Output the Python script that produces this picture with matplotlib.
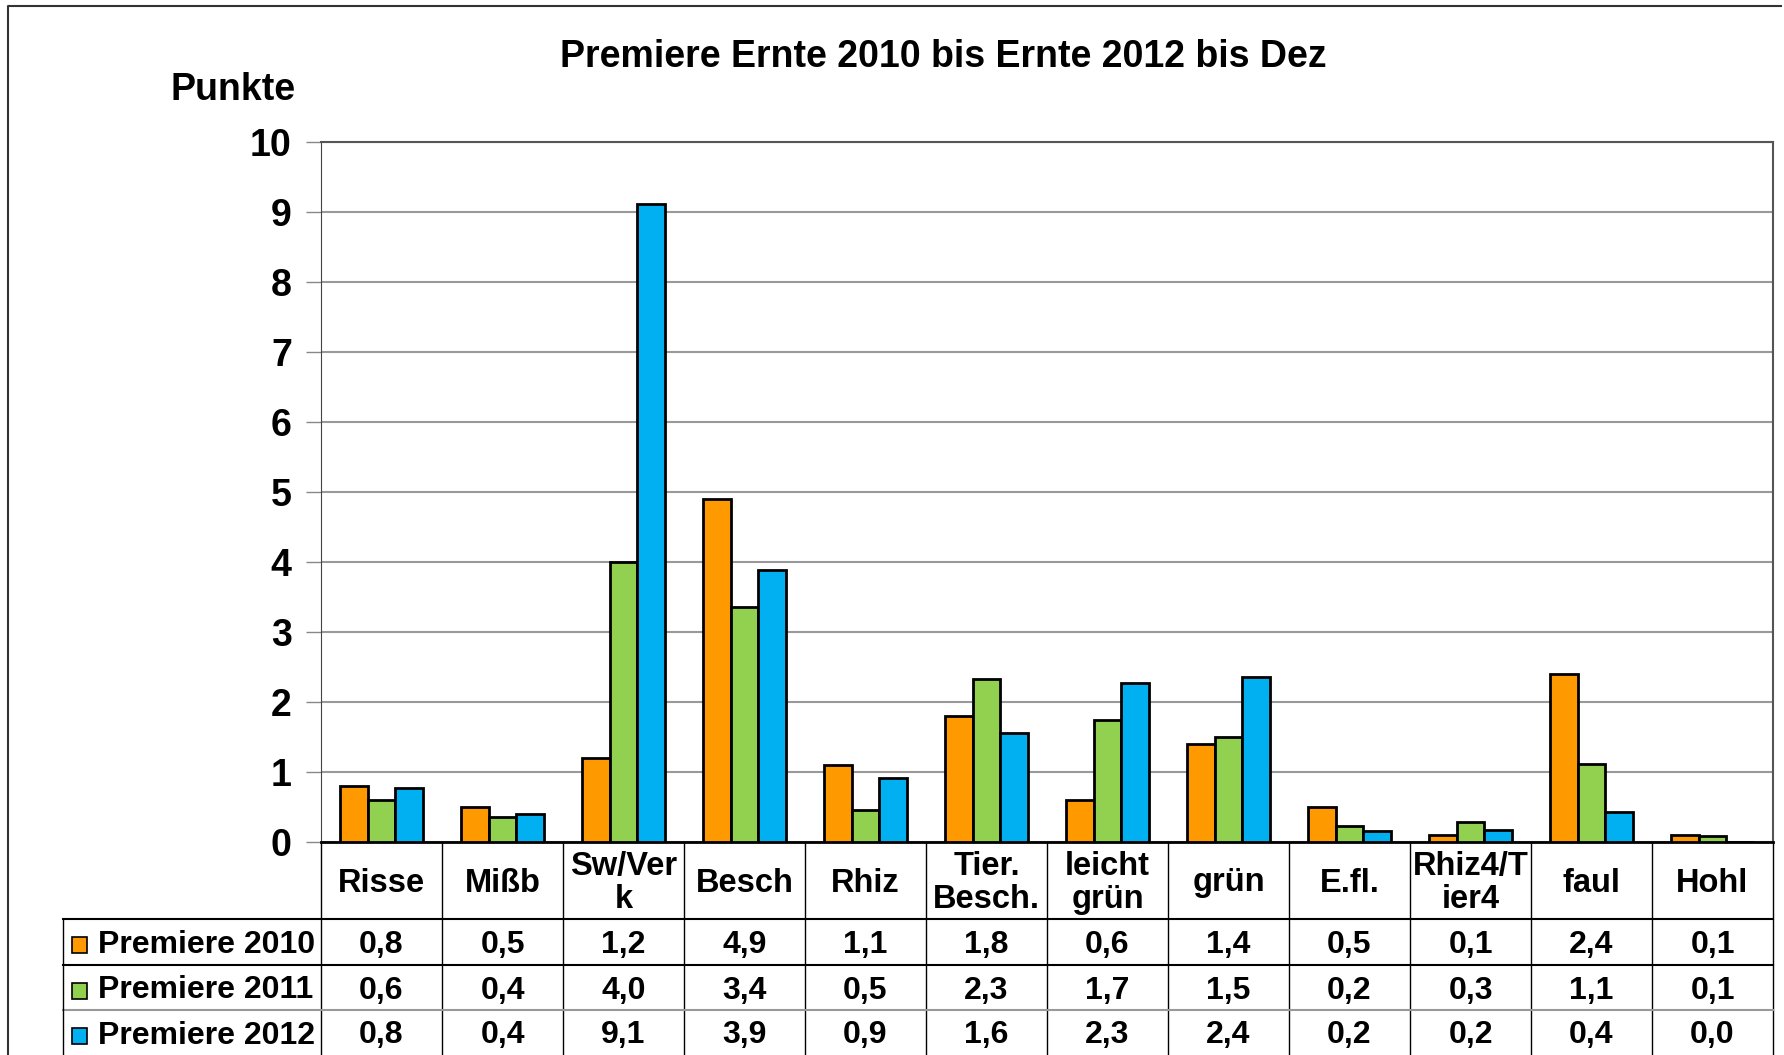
import matplotlib
matplotlib.use("Agg")
import matplotlib.pyplot as plt
import matplotlib.transforms as mtrans
from matplotlib.patches import Rectangle
import numpy as np

plt.rcParams['font.family'] = ['Liberation Sans', 'DejaVu Sans']
plt.rcParams['font.weight'] = 'bold'

categories = ["Risse", "Mißb", "Sw/Ver\nk", "Besch", "Rhiz", "Tier.\nBesch.",
              "leicht\ngrün", "grün", "E.fl.", "Rhiz4/T\nier4", "faul", "Hohl"]
series_names = ["Premiere 2010", "Premiere 2011", "Premiere 2012"]
v2010 = [0.8, 0.5, 1.2, 4.9, 1.1, 1.8, 0.6, 1.4, 0.5, 0.1, 2.4, 0.1]
v2011 = [0.6, 0.36, 4.0, 3.36, 0.46, 2.33, 1.74, 1.5, 0.23, 0.28, 1.12, 0.08]
v2012 = [0.77, 0.4, 9.12, 3.88, 0.92, 1.56, 2.27, 2.36, 0.16, 0.17, 0.43, 0.0]
colors = ["#FF9900", "#92D050", "#00B0F0"]
yticks = list(range(0, 11))
title = "Premiere Ernte 2010 bis Ernte 2012 bis Dez"
ylabel = "Punkte"

W, H = 1784, 1055
fig = plt.figure(figsize=(W / 100, H / 100), dpi=100)
fig.patch.set_facecolor("white")

L, R, T, B = 321, 1773, 142, 842
ax = fig.add_axes([L / W, 1 - B / H, (R - L) / W, (B - T) / H])
n = len(categories)
x = np.arange(n)
bw = 0.227
for i, (vals, c) in enumerate(zip([v2010, v2011, v2012], colors)):
    ax.bar(x + (i - 1) * bw, vals, width=bw, color=c, edgecolor="black",
           linewidth=2, zorder=3)

ax.set_xlim(-0.5, n - 0.5)
ax.set_ylim(0, 10)
ax.set_yticks(yticks)
ax.set_yticklabels([str(t) for t in yticks], fontsize=27, fontweight='bold')
ax.yaxis.grid(True, color="#999999", linewidth=1.5, zorder=0)
ax.set_axisbelow(True)
ax.tick_params(axis='y', length=11, width=1, color="#888888", pad=10)
ax.set_xticks(np.arange(-0.5, n, 1.0))
ax.set_xticklabels([])
ax.tick_params(axis='x', length=0)
for s in ["top", "right"]:
    ax.spines[s].set_color("#555555")
    ax.spines[s].set_linewidth(1.5)
ax.spines["left"].set_color("#444444")
ax.spines["bottom"].set_color("black")
ax.spines["bottom"].set_linewidth(2)

def fy(p):
    return 1 - p / H

# title and y label
fig.text(943 / W, fy(57), title, ha="center", va="center",
         fontsize=27, fontweight="bold")
fig.text(233 / W, fy(90), ylabel, ha="center", va="center",
         fontsize=27, fontweight="bold")

# table
blend = mtrans.blended_transform_factory(ax.transData, fig.transFigure)
figtr = fig.transFigure
row_y = [842, 919, 965, 1010, 1055]

for b in np.arange(-0.5, n, 1.0):
    ax.plot([b, b], [fy(842), fy(1055)], transform=blend, color="black",
            linewidth=1, clip_on=False)
for yy in row_y[1:4]:
    col = "#999999" if yy == 1010 else "black"
    fig.add_artist(plt.Line2D([63 / W, R / W], [fy(yy), fy(yy)], color=col,
                              linewidth=1.5))
fig.add_artist(plt.Line2D([63 / W, 63 / W], [fy(919), fy(1055)], color="black",
                          linewidth=1))

for i, cat in enumerate(categories):
    ax.text(i, fy(883), cat, transform=blend, ha="center", va="center",
            fontsize=23.5, fontweight="bold", linespacing=1.08)

for r, (name, vals, c) in enumerate(zip(series_names, [v2010, v2011, v2012], colors)):
    yc = (row_y[r + 1] + row_y[r + 2]) / 2 + 3
    fig.add_artist(Rectangle((72 / W, fy(yc + 8)), 15 / W, 16 / H,
                             transform=figtr, facecolor=c, edgecolor="black",
                             linewidth=1.2))
    fig.text(98 / W, fy(yc), name, ha="left", va="center", fontsize=23,
             fontweight="bold")
    for i, v in enumerate(vals):
        ax.text(i, fy(yc), f"{v:.1f}".replace(".", ","), transform=blend,
                ha="center", va="center", fontsize=23, fontweight="bold")

fig.add_artist(plt.Line2D([8 / W, 8 / W, 1781 / W], [fy(1055), fy(6), fy(6)],
                          color="#333333", linewidth=1.5))

fig.savefig("out.png", dpi=100, facecolor="white")
